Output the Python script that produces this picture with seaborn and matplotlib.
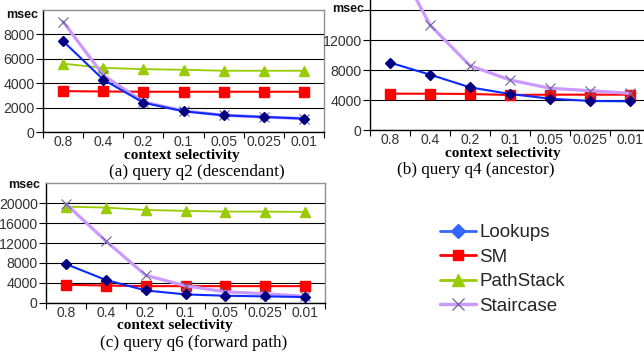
import matplotlib
matplotlib.use("Agg")
import matplotlib.pyplot as plt
import matplotlib.ticker as mticker
from matplotlib.lines import Line2D
import seaborn as sns
import pandas as pd

sns.set_theme(style="white")
plt.rcParams['font.family'] = ['Liberation Sans', 'DejaVu Sans']

categories = ["0.8", "0.4", "0.2", "0.1", "0.05", "0.025", "0.01"]

# (a) query q2 (descendant)
q2_lookups = [7450, 4300, 2400, 1700, 1370, 1230, 1100]
q2_sm = [3350, 3320, 3300, 3300, 3300, 3300, 3300]
q2_pathstack = [5600, 5260, 5150, 5100, 5020, 5020, 5020]
q2_staircase = [9040, 4660, 2470, 1730, 1370, 1230, 1100]

# (b) query q4 (ancestor)
q4_lookups = [8980, 7380, 5690, 4800, 4180, 3870, 3820]
q4_sm = [4840, 4840, 4800, 4670, 4710, 4710, 4710]
q4_staircase = [24000, 14000, 8580, 6670, 5560, 5240, 4890]

# (c) query q6 (forward path)
q6_lookups = [7790, 4620, 2510, 1720, 1450, 1320, 1190]
q6_sm = [3630, 3500, 3370, 3370, 3370, 3370, 3370]
q6_pathstack = [19270, 19080, 18610, 18420, 18280, 18280, 18220]
q6_staircase = [19800, 12410, 5550, 3430, 2240, 1850, 1320]

series_names = ["Lookups", "SM", "PathStack", "Staircase"]

styles = {
    "Lookups": dict(color="#0a2bff", lw=1.5, marker="D", ms=5.5,
                    mfc="#000080", mec="#000080", zorder=5),
    "SM": dict(color="#ff0000", lw=1.5, marker="s", ms=6.5,
               mfc="#ff0000", mec="#ff0000", zorder=4),
    "PathStack": dict(color="#99cc00", lw=1.3, marker="^", ms=7.5,
                      mfc="#99cc00", mec="#99cc00", zorder=3),
    "Staircase": dict(color="#cc99ff", lw=2.3, marker="x", ms=7,
                      mfc="#666699", mec="#666699", mew=0.8, zorder=4),
}

W, H = 644, 354
fig = plt.figure(figsize=(W / 100, H / 100), dpi=100)


def ax_at(l, t, r, b):
    return fig.add_axes([l / W, 1 - b / H, (r - l) / W, (b - t) / H])


def draw(ax, data, ymax, yticks, ylabels):
    for name, vals in data:
        df = pd.DataFrame({"sel": categories, "msec": vals})
        st = styles[name]
        sns.lineplot(data=df, x="sel", y="msec", ax=ax, sort=False,
                     color=st["color"], linewidth=st["lw"], marker=st["marker"],
                     markersize=st["ms"], markerfacecolor=st["mfc"],
                     markeredgecolor=st["mec"], markeredgewidth=st.get("mew", 1),
                     zorder=st["zorder"], legend=False)
    ax.set_xlim(-0.5, 6.5)
    ax.set_ylim(0, ymax)
    ax.set_yticks(yticks)
    ax.set_yticklabels(ylabels)
    ax.xaxis.set_minor_locator(mticker.FixedLocator([i + 0.5 for i in range(-1, 7)]))
    ax.tick_params(axis="x", which="major", length=0, pad=2, labelsize=10,
                   labelcolor="#333333")
    ax.tick_params(axis="x", which="minor", length=4, width=0.8, color="black",
                   direction="out", bottom=True)
    ax.tick_params(axis="y", length=5, width=0.8, color="black", direction="out",
                   left=True, pad=1, labelsize=10.2, labelcolor="#333333")
    ax.grid(axis="y", color="black", linewidth=0.8)
    ax.set_axisbelow(True)
    ax.set_xlabel("")
    ax.set_ylabel("")
    for s in ["left", "bottom"]:
        ax.spines[s].set_color("black")
        ax.spines[s].set_linewidth(1.0)
    for s in ["top", "right"]:
        ax.spines[s].set_color("#909090")
        ax.spines[s].set_linewidth(1.0)


ax_a = ax_at(43, 10, 324, 132)
draw(ax_a, [("PathStack", q2_pathstack), ("SM", q2_sm),
            ("Lookups", q2_lookups), ("Staircase", q2_staircase)],
     10000, [0, 2000, 4000, 6000, 8000], ["0", "2000", "4000", "6000", "8000"])

ax_b = ax_at(370, -20, 650, 130)
draw(ax_b, [("SM", q4_sm), ("Lookups", q4_lookups), ("Staircase", q4_staircase)],
     20000, [0, 4000, 8000, 12000, 16000], ["0", "4000", "8000", "12000", ""])

ax_c = ax_at(46, 183, 325, 303)
draw(ax_c, [("PathStack", q6_pathstack), ("SM", q6_sm),
            ("Lookups", q6_lookups), ("Staircase", q6_staircase)],
     24000, [0, 4000, 8000, 12000, 16000, 20000],
     ["0", "4000", "8000", "12000", "16000", "20000"])

serif = ['Liberation Serif', 'DejaVu Serif']


def ftext(x, y, s, **kw):
    fig.text(x / W, 1 - y / H, s, ha="center", va="center", **kw)


# msec labels
ftext(22, 15, "msec", fontsize=9, fontweight="bold", color="#111111")
ftext(348, 9, "msec", fontsize=9, fontweight="bold", color="#111111")
ftext(24, 185, "msec", fontsize=9, fontweight="bold", color="#111111")

# x-axis titles
for x, y in [(182, 155), (503, 154), (175, 326)]:
    ftext(x, y, "context selectivity", fontsize=11, fontweight="bold",
          family=serif, color="black")

# captions
ftext(197, 172, "(a) query q2 (descendant)", fontsize=12.3, family=serif, color="black")
ftext(476, 170, "(b) query q4 (ancestor)", fontsize=12.3, family=serif, color="black")
ftext(194, 343, "(c) query q6 (forward path)", fontsize=12.3, family=serif, color="black")

# legend
handles = [
    Line2D([], [], color="#3366ff", lw=2, marker="D", ms=7,
           mfc="#3366ff", mec="#3366ff"),
    Line2D([], [], color="#ff0000", lw=2, marker="s", ms=7,
           mfc="#ff0000", mec="#ff0000"),
    Line2D([], [], color="#99cc00", lw=2, marker="^", ms=8,
           mfc="#99cc00", mec="#99cc00"),
    Line2D([], [], color="#cc99ff", lw=2.5, marker="x", ms=8,
           mfc="#666699", mec="#666699", mew=0.9),
]
fig.legend(handles, series_names, loc="upper left",
           bbox_to_anchor=(440 / W, 1 - 224 / H), frameon=False,
           fontsize=13.5, handlelength=1.9, handletextpad=0.2,
           labelspacing=0.4, borderpad=0, borderaxespad=0)

fig.savefig("out.png", dpi=100)
